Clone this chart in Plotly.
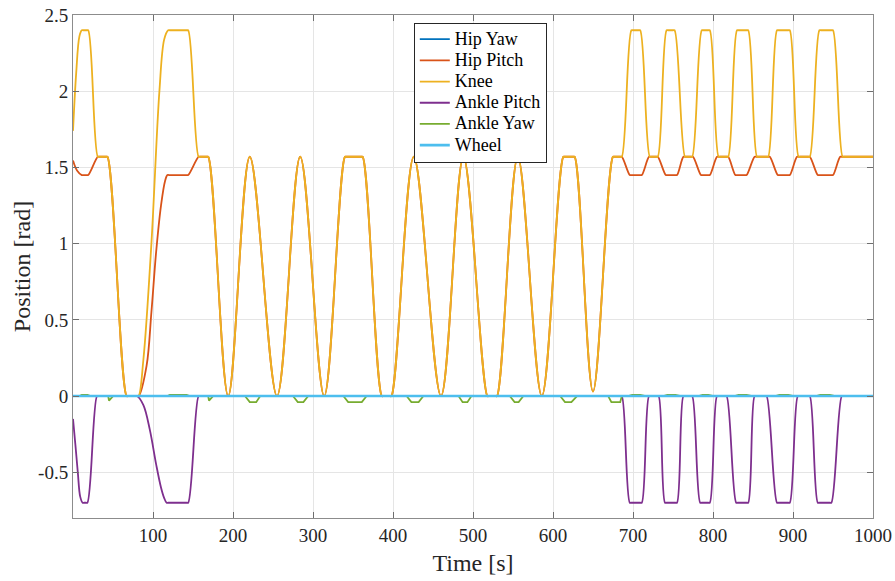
import plotly.graph_objects as go

# ---------------- data ----------------
X_TICKS = [100, 200, 300, 400, 500, 600, 700, 800, 900, 1000]
Y_TICKS = [-0.5, 0, 0.5, 1, 1.5, 2, 2.5]
Y_TICK_TEXT = ["-0.5", "0", "0.5", "1", "1.5", "2", "2.5"]
NAMES = ["Hip Yaw", "Hip Pitch", "Knee", "Ankle Pitch", "Ankle Yaw", "Wheel"]

# Knee: start section (0-169 s)
KNEE_T_A = [0, 4, 8, 11, 13, 17, 19, 31, 33, 41, 43, 67, 69, 80, 82, 88, 98, 108, 114,
            119, 121, 142, 144, 157, 159, 167, 169]
KNEE_V_A = [1.74, 2.12, 2.36, 2.40, 2.40, 2.40, 2.40, 1.57, 1.57, 1.57, 1.57, 0.00, 0.00, 0.00, 0.00,
            0.24, 1.00, 2.00, 2.34, 2.40, 2.40, 2.40, 2.40, 1.57, 1.57, 1.57, 1.57]

# Knee / Hip Pitch: shared middle section (squats, 169-686 s)
MID_T = [194, 221, 255, 284, 314, 340, 342, 360, 362, 386, 388, 396, 398, 426, 460, 488,
         518, 520, 528, 530, 556, 586, 613, 615, 625, 627, 650, 675, 677, 684, 686]
MID_V = [0.00, 1.57, 0.00, 1.57, 0.00, 1.57, 1.57, 1.57, 1.57, 0.00, 0.00, 0.00, 0.00, 1.57, 0.00, 1.57,
         0.00, 0.00, 0.00, 0.00, 1.57, 0.00, 1.57, 1.57, 1.57, 1.57, 0.03, 1.57, 1.57, 1.57, 1.57]

# Knee: end section (686-1000 s)
KNEE_T_B = [698, 700, 707, 709, 721, 723, 729, 731, 742, 744, 750, 752, 765, 767, 772, 774,
            786, 788, 794, 796, 807, 809, 817, 819, 830, 832, 842, 844, 855, 857, 867, 869,
            880, 882, 894, 896, 907, 909, 919, 921, 933, 935, 948, 950, 962, 964, 1000]
KNEE_V_B = [2.40, 2.40, 2.40, 2.40, 1.57, 1.57, 1.57, 1.57, 2.40, 2.40, 2.40, 2.40, 1.57, 1.57, 1.57, 1.57,
            2.40, 2.40, 2.40, 2.40, 1.57, 1.57, 1.57, 1.57, 2.40, 2.40, 2.40, 2.40, 1.57, 1.57, 1.57, 1.57,
            2.40, 2.40, 2.40, 2.40, 1.57, 1.57, 1.57, 1.57, 2.40, 2.40, 2.40, 2.40, 1.57, 1.57, 1.57]

# Hip Pitch: start and end sections
HIP_T_A = [0, 5, 11, 13, 17, 19, 31, 33, 41, 43, 67, 69, 80, 82, 92, 98, 104, 110, 115,
           118, 120, 142, 144, 157, 159, 167, 169]
HIP_V_A = [1.545, 1.48, 1.45, 1.45, 1.45, 1.45, 1.57, 1.57, 1.57, 1.57, 0.00, 0.00, 0.00, 0.00,
           0.20, 0.55, 0.95, 1.25, 1.41, 1.45, 1.45, 1.45, 1.45, 1.57, 1.57, 1.57, 1.57]
HIP_T_B = [696, 698, 709, 711, 720, 722, 729, 731, 741, 743, 753, 755, 763, 765, 773, 775,
           785, 787, 794, 796, 805, 807, 817, 819, 828, 830, 840, 842, 852, 854, 869, 871,
           881, 883, 894, 896, 905, 907, 919, 921, 931, 933, 948, 950, 959, 961, 1000]
HIP_V_B = [1.45, 1.45, 1.45, 1.45, 1.57, 1.57, 1.57, 1.57, 1.45, 1.45, 1.45, 1.45, 1.57, 1.57, 1.57, 1.57,
           1.45, 1.45, 1.45, 1.45, 1.57, 1.57, 1.57, 1.57, 1.45, 1.45, 1.45, 1.45, 1.57, 1.57, 1.57, 1.57,
           1.45, 1.45, 1.45, 1.45, 1.57, 1.57, 1.57, 1.57, 1.45, 1.45, 1.45, 1.45, 1.57, 1.57, 1.57]

# Ankle Pitch
ANKLE_P_T = [0, 3, 6, 9, 12, 14, 16, 18, 30, 32, 78, 80, 88, 96, 104, 110, 114, 117, 119, 142, 144,
             157, 159, 684, 686, 696, 698, 709, 711, 720, 722, 730, 732, 740, 742, 753, 755,
             763, 765, 772, 774, 784, 786, 794, 796, 805, 807, 815, 817, 829, 831, 842, 844,
             852, 854, 865, 867, 880, 882, 894, 896, 906, 908, 919, 921, 931, 933, 946, 948,
             961, 963, 1000]
ANKLE_P_V = [-0.15, -0.32, -0.50, -0.66, -0.70, -0.70, -0.70, -0.70, 0.00, 0.00, 0.00, 0.00,
             -0.06, -0.22, -0.45, -0.60, -0.67, -0.70, -0.70, -0.70, -0.70,
             0.00, 0.00, 0.00, 0.00, -0.70, -0.70, -0.70, -0.70, 0.00, 0.00, 0.00, 0.00,
             -0.70, -0.70, -0.70, -0.70, 0.00, 0.00, 0.00, 0.00, -0.70, -0.70, -0.70, -0.70,
             0.00, 0.00, 0.00, 0.00, -0.70, -0.70, -0.70, -0.70, 0.00, 0.00, 0.00, 0.00,
             -0.70, -0.70, -0.70, -0.70, 0.00, 0.00, 0.00, 0.00, -0.70, -0.70, -0.70, -0.70,
             0.00, 0.00, 0.00]

# Ankle Yaw
ANKLE_Y_T = [0, 8, 11, 18, 22, 44, 45, 50, 118, 121, 142, 146, 169, 170, 175,
             215, 221, 229, 234, 275, 281, 288, 294, 338, 344, 361, 367, 417, 423, 432, 438,
             482, 487, 493, 498, 546, 552, 557, 563, 609, 615, 623, 630, 669, 673, 684, 686,
             694, 699, 709, 716, 738, 743, 753, 760, 782, 787, 794, 801, 827, 832, 842, 849,
             878, 883, 894, 901, 929, 934, 946, 953, 1000]
ANKLE_Y_V = [0, 0, 0.008, 0.008, 0, 0, -0.03, 0, 0, 0.008, 0.008, 0, 0, -0.03, 0,
             0, -0.04, -0.04, 0, 0, -0.04, -0.04, 0, 0, -0.04, -0.04, 0, 0, -0.04, -0.04, 0,
             0, -0.04, -0.04, 0, 0, -0.04, -0.04, 0, 0, -0.04, -0.04, 0, 0, -0.04, -0.04, 0,
             0, 0.008, 0.008, 0, 0, 0.008, 0.008, 0, 0, 0.008, 0.008, 0, 0, 0.008, 0.008, 0,
             0, 0.008, 0.008, 0, 0, 0.008, 0.008, 0, 0]

# Hip Yaw and Wheel stay at zero
HIP_YAW_T = [0, 1000]
HIP_YAW_V = [0, 0]
WHEEL_T = [0, 1000]
WHEEL_V = [0, 0]

# ---------------- figure ----------------
COLORS = ["#0072BD", "#D95319", "#EDB120", "#7E2F8E", "#77AC30", "#4DBEEE"]
FONT = "Liberation Serif, Times New Roman, serif"

series = [
    (HIP_YAW_T, HIP_YAW_V, "linear", 1.8),
    (HIP_T_A + MID_T + HIP_T_B, HIP_V_A + MID_V + HIP_V_B, "spline", 1.8),
    (KNEE_T_A + MID_T + KNEE_T_B, KNEE_V_A + MID_V + KNEE_V_B, "spline", 1.8),
    (ANKLE_P_T, ANKLE_P_V, "spline", 1.8),
    (ANKLE_Y_T, ANKLE_Y_V, "linear", 1.8),
    (WHEEL_T, WHEEL_V, "linear", 2.6),
]

fig = go.Figure()
for (t, v, shape, w), name, col in zip(series, NAMES, COLORS):
    fig.add_trace(go.Scatter(
        x=t, y=v, mode="lines",
        name='<span style="font-size:18px">' + name + '</span>',
        line=dict(color=col, width=w, shape=shape, smoothing=1.0 if shape == "spline" else None),
    ))

axis_common = dict(
    showgrid=True, gridcolor="#e5e5e5", gridwidth=1,
    zeroline=False, automargin=False, ticklabeloverflow="allow",
    showline=True, linecolor="#8c8c8c", linewidth=1, mirror="ticks",
    ticks="inside", ticklen=6, tickcolor="#6e6e6e", tickwidth=1,
    tickfont=dict(family=FONT, size=19, color="#262626"),
)

fig.update_layout(
    width=895, height=581,
    margin=dict(l=73, r=22, t=15, b=63),
    paper_bgcolor="white", plot_bgcolor="white",
    font=dict(family=FONT, color="#262626"),
    xaxis=dict(range=[0, 1000], tickvals=X_TICKS,
               title=dict(text="Time [s]", font=dict(family=FONT, size=24, color="#262626"), standoff=9),
               **axis_common),
    yaxis=dict(range=[-0.8, 2.5], tickvals=Y_TICKS, ticktext=Y_TICK_TEXT,
               title=dict(text="Position [rad]", font=dict(family=FONT, size=24, color="#262626"), standoff=0),
               **axis_common),
    legend=dict(x=0.426, y=0.985, xanchor="left", yanchor="top",
                bgcolor="white", bordercolor="#262626", borderwidth=1,
                font=dict(family=FONT, size=14, color="#000000"),
                tracegroupgap=0),
    showlegend=True,
)

# remove the page body's default 8 px margin so the figure sits at the window origin
fig.write_html("out.html", config={"displayModeBar": False},
               post_script="document.body.style.margin='0';document.body.style.overflow='hidden';")
